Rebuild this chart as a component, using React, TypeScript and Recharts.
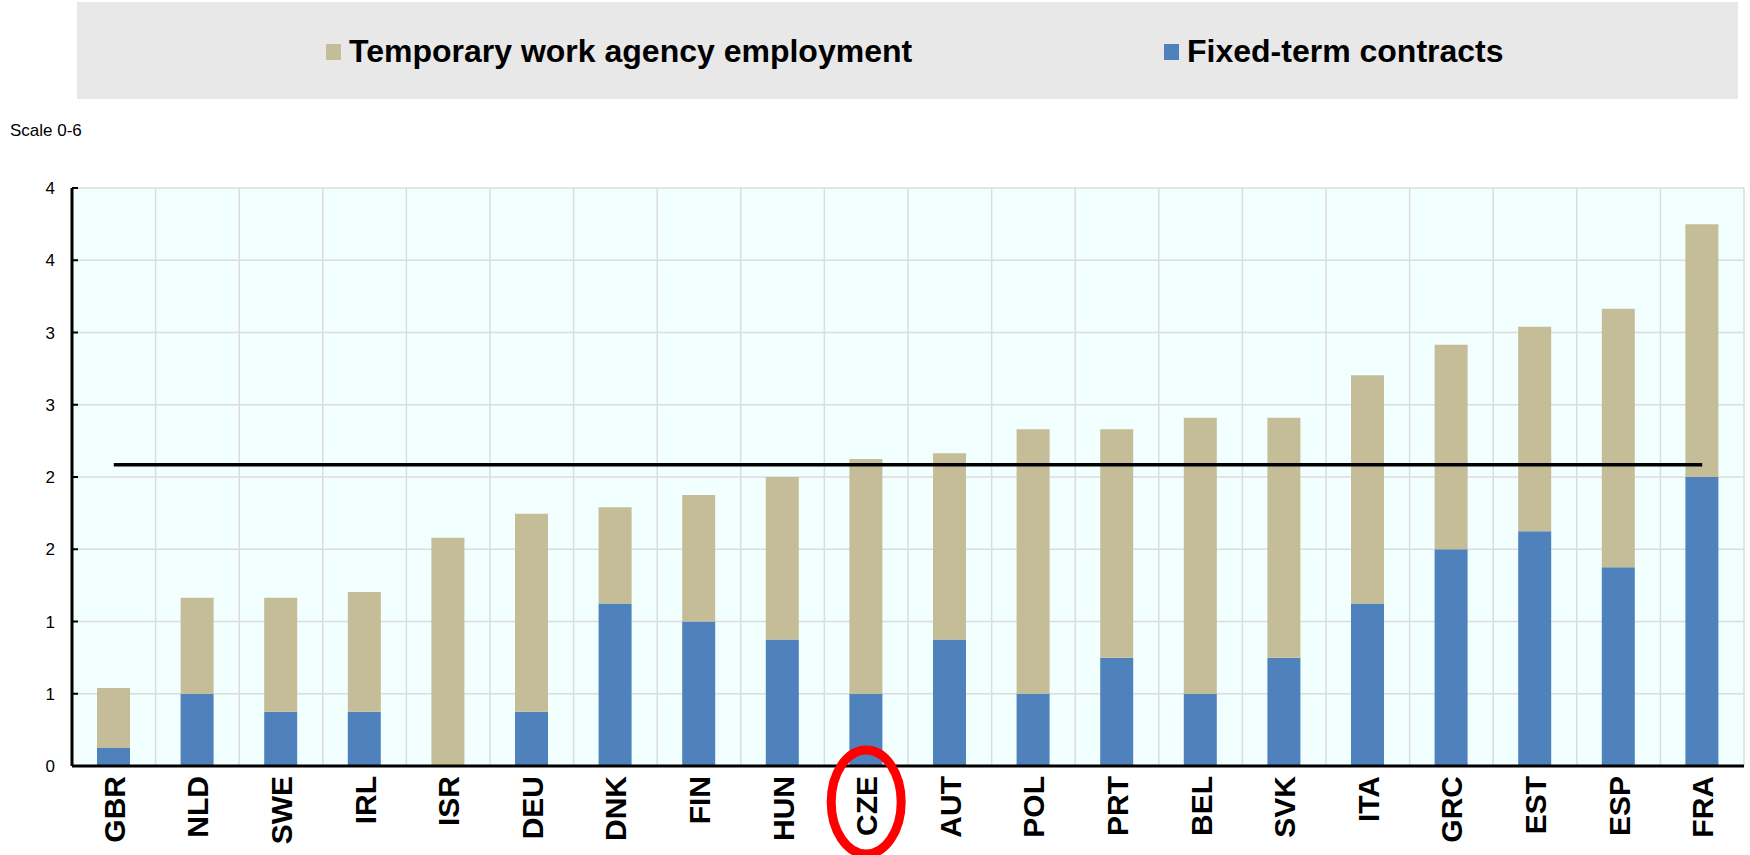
import { BarChart, Bar, Line, XAxis, YAxis, CartesianGrid } from "recharts";

const countries = ["GBR", "NLD", "SWE", "IRL", "ISR", "DEU", "DNK", "FIN", "HUN", "CZE", "AUT", "POL", "PRT", "BEL", "SVK", "ITA", "GRC", "EST", "ESP", "FRA"];
const fixedTerm = [0.125, 0.5, 0.375, 0.375, 0, 0.375, 1.125, 1.0, 0.875, 0.5, 0.875, 0.5, 0.75, 0.5, 0.75, 1.125, 1.5, 1.625, 1.375, 2.0];
const tempAgency = [0.415, 0.665, 0.79, 0.83, 1.58, 1.37, 0.665, 0.875, 1.125, 1.625, 1.29, 1.83, 1.58, 1.91, 1.66, 1.58, 1.415, 1.415, 1.79, 1.75];
const oecdAverage = 2.085;
const yTicks = [0, 0.5, 1, 1.5, 2, 2.5, 3, 3.5, 4];
const highlighted = "CZE";

const FIXED_NAME = "Fixed-term contracts";
const TEMP_NAME = "Temporary work agency employment";
const BLUE = "#4F81BD";
const TAN = "#C4BD97";
const FONT = "'Liberation Sans', Arial, sans-serif";

const data = countries.map((c, i) => ({
  country: c,
  fixed: fixedTerm[i],
  temp: tempAgency[i],
  avg: oecdAverage,
}));

// vertical grid lines sit on the category boundaries, not the centres
const bandEdges = ({ offset }: any) =>
  Array.from({ length: countries.length + 1 }, (_, i) => offset.left + (offset.width * i) / countries.length);

const CountryTick = (props: any) => {
  const { x, y, payload } = props;
  return (
    <g transform={`translate(${x},${y})`}>
      <text
        transform="rotate(-90)"
        x={-8}
        y={11}
        textAnchor="end"
        fontFamily={FONT}
        fontWeight="bold"
        fontSize={30}
        fill="#000"
      >
        {payload.value}
      </text>
      {payload.value === highlighted && (
        <ellipse cx={0} cy={34} rx={35} ry={52} fill="none" stroke="#FF0000" strokeWidth={9} />
      )}
    </g>
  );
};

const ValueTick = (props: any) => {
  const { x, y, payload } = props;
  return (
    <g>
      <line x1={x} x2={x + 6} y1={y} y2={y} stroke="#000" strokeWidth={2} />
      <text x={x - 17} y={y} dy={6} textAnchor="end" fontFamily={FONT} fontSize={17} fill="#000">
        {Math.round(payload.value)}
      </text>
    </g>
  );
};

export default function App() {
  return (
    <div style={{ position: "absolute", left: 0, top: 0, width: 1750, height: 855, background: "#fff", fontFamily: FONT }}>
      <div
        style={{
          position: "absolute",
          left: 77,
          top: 2,
          width: 1661,
          height: 97,
          background: "#E8E8E8",
        }}
      >
        <div style={{ position: "absolute", left: 249, top: 31, display: "flex", alignItems: "center" }}>
          <span style={{ width: 15, height: 16, background: TAN, marginRight: 8, display: "inline-block" }} />
          <span style={{ fontSize: 32, fontWeight: "bold", color: "#000" }}>{TEMP_NAME}</span>
        </div>
        <div style={{ position: "absolute", left: 1087, top: 31, display: "flex", alignItems: "center" }}>
          <span style={{ width: 15, height: 16, background: BLUE, marginRight: 8, display: "inline-block" }} />
          <span style={{ fontSize: 32, fontWeight: "bold", color: "#000" }}>{FIXED_NAME}</span>
        </div>
      </div>
      <div style={{ position: "absolute", left: 10, top: 121, fontSize: 17, color: "#000" }}>Scale 0-6</div>
      <div style={{ position: "absolute", left: 0, top: 0 }}>
        <BarChart
          width={1750}
          height={855}
          data={data}
          margin={{ top: 188, right: 6, bottom: 9, left: 32 }}
          barSize={33}
        >
          <CartesianGrid
            stroke="#DCDCDC"
            strokeWidth={1.5}
            fill="#F2FFFF"
            verticalCoordinatesGenerator={bandEdges}
          />
          <XAxis
            xAxisId="top"
            dataKey="country"
            orientation="top"
            height={0}
            tick={false}
            tickLine={false}
            axisLine={{ stroke: "#111", strokeWidth: 2.5 }}
          />
          <XAxis
            dataKey="country"
            height={80}
            interval={0}
            tickLine={false}
            tickSize={0}
            axisLine={{ stroke: "#000", strokeWidth: 3 }}
            tick={<CountryTick />}
          />
          <YAxis
            domain={[0, 4]}
            ticks={yTicks}
            width={40}
            tickLine={false}
            tickSize={0}
            tickMargin={0}
            axisLine={{ stroke: "#000", strokeWidth: 3 }}
            tick={<ValueTick />}
          />
          <YAxis
            yAxisId="right"
            orientation="right"
            domain={[0, 4]}
            width={0}
            tick={false}
            tickLine={false}
            axisLine={{ stroke: "#333", strokeWidth: 1.5 }}
          />
          <Bar dataKey="fixed" name={FIXED_NAME} stackId="a" fill={BLUE} isAnimationActive={false} />
          <Bar dataKey="temp" name={TEMP_NAME} stackId="a" fill={TAN} isAnimationActive={false} />
          <Line
            dataKey="avg"
            type="linear"
            stroke="#000"
            strokeWidth={3.5}
            dot={false}
            activeDot={false}
            isAnimationActive={false}
          />
        </BarChart>
      </div>
    </div>
  );
}
